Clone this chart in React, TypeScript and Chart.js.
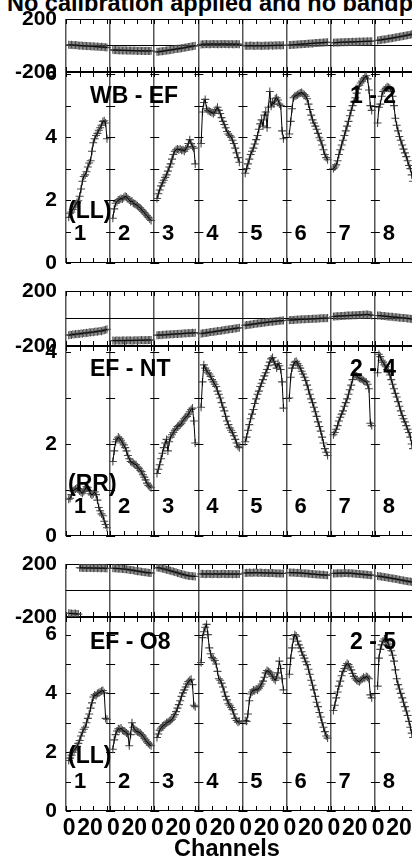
import React, { useEffect, useRef } from 'react';
import { Chart, registerables } from 'chart.js';

Chart.register(...registerables);

const FONT = "'Liberation Sans', Arial, Helvetica, sans-serif";

// ---------------- data ----------------
const TITLE = 'No calibration applied and no bandpass';
const X_TITLE = 'Channels';
const WINDOWS = ['1', '2', '3', '4', '5', '6', '7', '8'];
const CHANNELS = [2, 3, 4, 5, 6, 7, 8, 9, 10, 11, 12, 13, 14, 15, 16, 17, 18, 19, 20, 21, 22, 23, 24, 25, 26, 27, 28, 29, 30];
const X_TICK_CHANNELS = [0, 10, 20, 30];
const X_LABELED_CHANNELS = [0, 20];
const PHASE_TICKS = [-200, 0, 200];
const PHASE_LABELED = [-200, 200];
const BASELINES = ['WB - EF', 'EF - NT', 'EF - O8'];
const ANTENNA_PAIRS = ['1 - 2', '2 - 4', '2 - 5'];
const STOKES = ['(LL)', '(RR)', '(LL)'];
const AMP_MAX = [6.07, 4.13, 6.6];
const AMP_TICKS = [[0, 1, 2, 3, 4, 5, 6], [0, 1, 2, 3, 4], [0, 1, 2, 3, 4, 5, 6]];
const AMP_LABELED = [[0, 2, 4, 6], [0, 2, 4], [0, 2, 4, 6]];

const AMP_WB_EF = [
  [1.45, 1.58, 1.62, 1.7, 1.78, 1.85, 1.92, 1.98, 2.12, 2.35, 2.6, 2.75, 2.8, 2.9, 3.05, 3.18, 3.25, 3.55, 3.82, 3.95, 4.05, 4.12, 4.22, 4.3, 4.38, 4.5, 4.52, 4.45, 3.95],
  [1.42, 1.72, 1.9, 1.95, 2.0, 2.02, 2.05, 2.03, 2.08, 2.12, 2.1, 2.05, 2.0, 1.95, 1.97, 1.9, 1.88, 1.85, 1.82, 1.78, 1.75, 1.7, 1.65, 1.6, 1.55, 1.5, 1.45, 1.4, 1.35],
  [2.05, 2.2, 2.32, 2.45, 2.55, 2.63, 2.72, 2.8, 2.92, 3.05, 3.15, 3.3, 3.45, 3.55, 3.6, 3.62, 3.6, 3.62, 3.58, 3.6, 3.55, 3.62, 3.68, 3.8, 3.92, 3.8, 3.7, 3.65, 3.15],
  [3.8, 4.8, 5.1, 5.2, 4.9, 4.85, 4.82, 4.8, 4.78, 4.75, 4.8, 4.88, 4.95, 4.85, 4.75, 4.62, 4.5, 4.4, 4.3, 4.18, 4.1, 4.05, 4.0, 3.9, 3.8, 3.65, 3.5, 3.35, 3.2],
  [2.85, 3.0, 3.15, 3.3, 3.45, 3.55, 3.65, 3.78, 3.92, 4.05, 4.25, 4.42, 4.55, 4.35, 4.7, 4.8, 4.3, 4.95, 5.45, 4.98, 5.12, 5.05, 5.22, 5.25, 5.18, 5.05, 5.0, 4.2, 3.95],
  [4.1, 4.5, 4.9, 5.25, 5.3, 5.32, 5.35, 5.38, 5.4, 5.42, 5.38, 5.35, 5.3, 5.22, 5.05, 4.88, 4.7, 4.55, 4.45, 4.35, 4.25, 4.12, 3.98, 3.9, 3.75, 3.6, 3.45, 3.35, 3.28],
  [3.0, 3.05, 3.12, 3.25, 3.45, 3.6, 3.75, 3.9, 4.05, 4.2, 4.35, 4.5, 4.68, 4.85, 5.0, 5.12, 5.25, 5.4, 5.52, 5.65, 5.72, 5.78, 5.85, 5.9, 5.95, 5.85, 5.5, 5.0, 4.85],
  [4.45, 4.95, 5.05, 5.3, 5.45, 5.5, 5.55, 5.6, 5.58, 5.55, 5.45, 5.3, 5.0, 4.6, 4.38, 4.2, 4.02, 3.9, 3.75, 3.62, 3.5, 3.38, 3.25, 3.1, 3.0, 2.8, 2.6, 2.4, 2.2],
];
const PHASE_WB_EF = [
  [6, 4, 5, 3, 2, 3, 1, 0, -1, 0, -2, -3, -2, -4, -5, -4, -6, -7, -6, -8, -9, -8, -10, -11, -10, -12, -13, -14, -16],
  [-33, -35, -34, -36, -35, -37, -36, -38, -37, -36, -38, -39, -37, -38, -40, -39, -38, -40, -41, -39, -40, -41, -40, -42, -41, -40, -42, -41, -40],
  [-48, -47, -46, -44, -43, -41, -40, -38, -37, -35, -34, -32, -30, -29, -27, -25, -24, -22, -20, -19, -17, -15, -13, -11, -9, -7, -5, -3, -1],
  [8, 9, 10, 9, 11, 10, 9, 10, 11, 12, 10, 11, 10, 9, 11, 10, 12, 11, 10, 11, 9, 10, 11, 10, 9, 10, 11, 10, 9],
  [-2, -1, -3, -2, 0, -1, -2, -3, -1, 0, -2, -1, -3, -2, -1, 0, -2, -1, 0, 1, -1, 0, 1, 0, 2, 1, 0, 2, 1],
  [3, 4, 5, 6, 6, 7, 8, 9, 9, 10, 11, 12, 12, 13, 14, 15, 15, 16, 17, 18, 18, 19, 20, 21, 21, 22, 23, 24, 25],
  [21, 22, 22, 23, 23, 24, 24, 25, 25, 26, 25, 26, 27, 27, 28, 27, 28, 29, 29, 30, 29, 30, 31, 30, 31, 32, 31, 32, 33],
  [38, 40, 41, 43, 45, 46, 48, 50, 52, 53, 55, 57, 59, 60, 62, 64, 66, 68, 70, 72, 74, 76, 78, 80, 82, 85, 88, 90, 93],
];

const AMP_EF_NT = [
  [0.8, 0.82, 0.9, 0.98, 1.0, 1.02, 1.04, 1.03, 0.98, 0.95, 0.93, 0.97, 1.02, 1.07, 1.05, 0.98, 0.92, 0.89, 0.92, 0.96, 0.9, 0.78, 0.62, 0.55, 0.48, 0.44, 0.32, 0.25, 0.18],
  [1.62, 1.85, 2.05, 2.1, 2.15, 2.12, 2.08, 2.02, 1.98, 1.92, 1.85, 1.75, 1.68, 1.62, 1.6, 1.58, 1.56, 1.55, 1.5, 1.47, 1.43, 1.4, 1.33, 1.28, 1.22, 1.15, 1.1, 1.07, 1.05],
  [1.36, 1.45, 1.55, 1.68, 1.8, 1.92, 2.02, 2.1, 1.85, 2.05, 2.15, 2.2, 2.25, 2.3, 2.33, 2.38, 2.4, 2.42, 2.45, 2.5, 2.55, 2.58, 2.6, 2.65, 2.7, 2.75, 2.78, 2.5, 2.02],
  [2.8, 3.35, 3.72, 3.65, 3.6, 3.55, 3.52, 3.47, 3.4, 3.35, 3.3, 3.25, 3.15, 3.08, 3.0, 2.9, 2.8, 2.72, 2.6, 2.5, 2.42, 2.35, 2.3, 2.25, 2.18, 2.1, 2.02, 1.95, 1.92],
  [2.05, 2.15, 2.3, 2.42, 2.55, 2.65, 2.75, 2.88, 2.98, 3.08, 3.15, 3.25, 3.32, 3.4, 3.48, 3.55, 3.62, 3.7, 3.78, 3.85, 3.88, 3.8, 3.72, 3.65, 3.75, 3.7, 3.62, 3.35, 2.78],
  [3.0, 3.45, 3.65, 3.72, 3.78, 3.8, 3.75, 3.7, 3.65, 3.58, 3.52, 3.45, 3.38, 3.28, 3.18, 3.08, 2.98, 2.9, 2.8, 2.7, 2.6, 2.48, 2.38, 2.28, 2.15, 2.02, 1.9, 1.82, 1.75],
  [2.2, 2.25, 2.32, 2.4, 2.5, 2.58, 2.65, 2.72, 2.82, 2.9, 2.98, 3.08, 3.18, 3.28, 3.4, 3.5, 3.52, 3.48, 3.45, 3.43, 3.42, 3.4, 3.38, 3.36, 3.35, 3.3, 3.2, 2.45, 2.4],
  [3.55, 3.95, 3.9, 3.82, 3.78, 3.72, 3.68, 3.62, 3.58, 3.5, 3.4, 3.3, 3.2, 3.1, 3.02, 2.92, 2.82, 2.72, 2.62, 2.55, 2.48, 2.4, 2.32, 2.25, 2.15, 2.0, 1.9, 1.8, 1.7],
];
const PHASE_EF_NT = [
  [-122, -118, -120, -115, -117, -112, -114, -110, -112, -108, -110, -105, -107, -103, -105, -100, -102, -98, -100, -96, -94, -96, -92, -90, -92, -88, -85, -82, -78],
  [-160, -162, -161, -159, -161, -160, -162, -160, -159, -161, -160, -158, -160, -159, -161, -160, -158, -159, -160, -158, -159, -157, -159, -158, -157, -158, -156, -157, -156],
  [-122, -121, -120, -121, -119, -118, -119, -117, -116, -117, -115, -114, -115, -113, -112, -113, -111, -110, -111, -109, -108, -109, -107, -106, -107, -105, -104, -105, -103],
  [-110, -107, -108, -105, -103, -103, -100, -99, -99, -96, -94, -94, -91, -90, -90, -87, -85, -85, -82, -81, -80, -78, -76, -76, -73, -72, -71, -69, -67],
  [-50, -47, -48, -45, -43, -43, -40, -39, -39, -36, -34, -34, -32, -31, -30, -28, -27, -26, -24, -23, -23, -21, -20, -20, -18, -17, -17, -15, -14],
  [-12, -11, -11, -10, -9, -9, -8, -7, -7, -6, -6, -5, -5, -4, -4, -3, -3, -2, -2, -1, -1, 0, 0, 1, 1, 1, 2, 2, 3],
  [14, 15, 16, 17, 17, 18, 19, 19, 20, 20, 21, 21, 22, 22, 23, 23, 24, 24, 25, 25, 26, 27, 27, 28, 29, 30, 28, 25, 22],
  [22, 21, 22, 19, 18, 18, 16, 15, 15, 13, 12, 12, 10, 9, 9, 7, 6, 6, 4, 3, 3, 1, 0, 0, -2, -3, -3, -5, -6],
];

const AMP_EF_O8 = [
  [1.72, 1.8, 1.9, 2.0, 2.08, 2.12, 2.2, 2.3, 2.4, 2.55, 2.68, 2.78, 2.85, 3.0, 3.15, 3.3, 3.5, 3.68, 3.88, 3.95, 3.92, 4.0, 4.02, 4.05, 4.08, 4.1, 4.02, 3.15, 3.12],
  [2.1, 2.42, 2.6, 2.72, 2.8, 2.78, 2.82, 2.75, 2.72, 2.7, 2.65, 2.62, 2.22, 2.6, 3.0, 2.85, 2.78, 2.72, 2.7, 2.68, 2.65, 2.6, 2.55, 2.48, 2.42, 2.35, 2.3, 2.25, 2.22],
  [2.5, 2.62, 2.75, 2.82, 2.88, 2.92, 2.95, 3.0, 3.02, 3.05, 3.08, 3.12, 3.2, 3.28, 3.38, 3.5, 3.62, 3.75, 3.9, 4.02, 4.12, 4.22, 4.32, 4.4, 4.45, 4.48, 4.3, 3.6, 3.55],
  [5.05, 5.9, 6.1, 6.25, 6.35, 6.0, 5.55, 5.35, 5.22, 5.18, 5.12, 5.0, 4.75, 4.5, 4.45, 4.35, 4.22, 4.05, 3.9, 3.78, 3.65, 3.6, 3.52, 3.45, 3.3, 3.15, 3.08, 3.02, 3.05],
  [3.08, 3.05, 3.3, 3.75, 3.98, 4.05, 4.12, 4.1, 4.15, 4.12, 4.18, 4.25, 4.32, 4.42, 4.55, 4.7, 4.78, 4.75, 4.72, 4.65, 4.58, 4.5, 4.45, 4.55, 4.7, 5.1, 4.85, 4.5, 4.12],
  [4.65, 5.2, 5.55, 5.85, 6.0, 5.95, 5.78, 5.65, 5.55, 5.42, 5.3, 5.2, 5.08, 4.98, 4.82, 4.65, 4.45, 4.28, 4.12, 3.9, 3.7, 3.55, 3.35, 3.2, 3.0, 2.85, 2.7, 2.55, 2.48],
  [3.42, 3.6, 3.85, 4.05, 4.25, 4.42, 4.6, 4.75, 4.85, 4.95, 5.02, 4.98, 4.9, 4.8, 4.68, 4.58, 4.5, 4.45, 4.42, 4.4, 4.45, 4.5, 4.55, 4.52, 4.58, 4.55, 4.5, 3.95, 3.85],
  [4.25, 5.2, 5.5, 5.65, 5.78, 5.85, 5.82, 5.75, 5.68, 5.55, 5.45, 5.3, 5.1, 4.8, 4.5, 4.3, 4.15, 4.0, 3.85, 3.7, 3.55, 3.4, 3.25, 3.05, 2.85, 2.65, 2.5, 2.35, 2.2],
];
const PHASE_EF_O8 = [
  [-172, -174, -173, -175, -176, -174, -177, -178, 172, 171, 172, 170, 171, 169, 170, 171, 169, 170, 168, 169, 170, 168, 169, 167, 168, 169, 167, 168, 166],
  [168, 167, 168, 166, 165, 166, 164, 163, 162, 161, 160, 158, 157, 155, 154, 152, 150, 148, 146, 145, 143, 141, 140, 138, 137, 135, 134, 133, 132],
  [174, 171, 171, 167, 166, 162, 161, 157, 155, 151, 149, 145, 143, 139, 137, 133, 131, 127, 125, 121, 119, 116, 113, 112, 109, 109, 107, 107, 106],
  [124, 126, 125, 123, 125, 126, 124, 125, 123, 124, 126, 125, 124, 123, 125, 124, 126, 125, 124, 123, 124, 125, 124, 123, 125, 124, 123, 124, 125],
  [132, 134, 133, 135, 134, 133, 135, 134, 136, 134, 133, 135, 134, 133, 132, 134, 133, 132, 131, 133, 132, 131, 130, 129, 130, 129, 128, 129, 128],
  [135, 136, 134, 135, 134, 133, 134, 132, 133, 131, 130, 129, 130, 128, 127, 126, 125, 124, 123, 122, 121, 121, 120, 119, 118, 118, 117, 116, 116],
  [128, 129, 129, 130, 130, 131, 131, 131, 132, 132, 131, 131, 130, 130, 129, 128, 127, 126, 125, 124, 123, 122, 121, 120, 119, 118, 117, 116, 115],
  [110, 107, 107, 104, 104, 101, 100, 98, 97, 94, 93, 91, 90, 87, 86, 83, 82, 79, 78, 75, 74, 71, 70, 67, 67, 64, 63, 60, 60],
];

const AMPS = [AMP_WB_EF, AMP_EF_NT, AMP_EF_O8];
const PHASES = [PHASE_WB_EF, PHASE_EF_NT, PHASE_EF_O8];

// ---------------- layout ----------------
const PAGE_W = 412;
const PAGE_H = 862;
const AXIS_W = 66;
const WINDOW_SPAN = 32.3;
const X_MAX = 253.3;
const PAD = 14;
const X_TITLE_CX = 227;
const GEOM = [
  { phaseTop: 19, ampTop: 72, ampBottom: 263, labelDy: 25, stokesDy: 51 },
  { phaseTop: 291, ampTop: 346, ampBottom: 536, labelDy: 24, stokesDy: 51 },
  { phaseTop: 564, ampTop: 617, ampBottom: 811, labelDy: 26, stokesDy: 54 },
];

type Sub = { kind: 'phase' | 'amp'; panel: number; areaTop: number; areaBottom: number; showX: boolean };

const SUBS: Sub[] = [];
GEOM.forEach((g, p) => {
  SUBS.push({ kind: 'phase', panel: p, areaTop: g.phaseTop, areaBottom: g.ampTop, showX: false });
  SUBS.push({ kind: 'amp', panel: p, areaTop: g.ampTop, areaBottom: g.ampBottom, showX: p === GEOM.length - 1 });
});

function canvasBox(s: Sub) {
  const top = s.areaTop - PAD;
  const height = s.showX ? PAGE_H - top : s.areaBottom - s.areaTop + 2 * PAD;
  return { top, height };
}

function channelOf(v: number) {
  const w = Math.floor(v / WINDOW_SPAN + 1e-6);
  return Math.round(v - w * WINDOW_SPAN);
}

function isBoundary(v: number | undefined) {
  if (v === undefined || v === null) return false;
  const w = Math.round(v / WINDOW_SPAN);
  return Math.abs(v - w * WINDOW_SPAN) < 1e-6;
}

function series(values: number[][]) {
  const pts: { x: number; y: number | null }[] = [];
  values.forEach((win, w) => {
    win.forEach((v, i) => pts.push({ x: w * WINDOW_SPAN + CHANNELS[i], y: v }));
    pts.push({ x: w * WINDOW_SPAN + 31.5, y: null });
  });
  return pts;
}

const decorPlugin = {
  id: 'decor',
  beforeDatasetsDraw(chart: any, _a: any, o: any) {
    const { ctx, chartArea: a } = chart;
    const xs = chart.scales.x;
    const ys = chart.scales.y;
    ctx.save();
    ctx.beginPath();
    ctx.rect(a.left, a.top - 1, a.right - a.left, a.bottom - a.top + 2);
    ctx.clip();
    ctx.strokeStyle = '#000';
    ctx.lineWidth = 1;
    ctx.beginPath();
    ctx.moveTo(a.left, a.top + 0.5);
    ctx.lineTo(a.right, a.top + 0.5);
    ctx.moveTo(a.left, a.bottom - 0.5);
    ctx.lineTo(a.right, a.bottom - 0.5);
    for (const t of xs.ticks) {
      const px = Math.round(xs.getPixelForValue(t.value)) + 0.5;
      ctx.moveTo(px, a.top);
      ctx.lineTo(px, a.top + 5);
      ctx.moveTo(px, a.bottom);
      ctx.lineTo(px, a.bottom - 5);
    }
    for (let w = 0; w < WINDOWS.length; w++) {
      const bx = xs.getPixelForValue(w * WINDOW_SPAN);
      for (const v of o.yTicks) {
        const py = Math.round(ys.getPixelForValue(v)) + 0.5;
        ctx.moveTo(bx - 4, py);
        ctx.lineTo(bx + 5, py);
      }
    }
    ctx.stroke();
    ctx.restore();
  },
  afterDatasetsDraw(chart: any, _a: any, o: any) {
    const { ctx, chartArea: a } = chart;
    ctx.save();
    ctx.fillStyle = '#000';
    ctx.textBaseline = 'middle';
    if (o.texts) {
      const xs = chart.scales.x;
      const p = o.panel;
      const g = GEOM[p];
      ctx.textAlign = 'left';
      ctx.font = `bold 23px ${FONT}`;
      ctx.fillText(BASELINES[p], a.left + 24, a.top + g.labelDy);
      ctx.fillText(ANTENNA_PAIRS[p], a.left + 284, a.top + g.labelDy);
      ctx.fillText(STOKES[p], a.left + 2, a.bottom - g.stokesDy);
      ctx.font = `bold 22px ${FONT}`;
      ctx.textAlign = 'center';
      WINDOWS.forEach((lab, w) => {
        ctx.fillText(lab, xs.getPixelForValue(w * WINDOW_SPAN) + 14, a.bottom - 29);
      });
    }
    if (o.xTitle) {
      ctx.textAlign = 'center';
      ctx.font = `bold 23.5px ${FONT}`;
      ctx.fillText(X_TITLE, X_TITLE_CX, chart.height - 12);
    }
    ctx.restore();
  },
};

function buildConfig(s: Sub): any {
  const isPhase = s.kind === 'phase';
  const data = series(isPhase ? PHASES[s.panel] : AMPS[s.panel]);
  const yTicks = isPhase ? PHASE_TICKS : AMP_TICKS[s.panel];
  const yLabeled = isPhase ? PHASE_LABELED : AMP_LABELED[s.panel];
  const xTicks: number[] = [];
  WINDOWS.forEach((_, w) => {
    X_TICK_CHANNELS.forEach((c) => {
      const v = w * WINDOW_SPAN + c;
      if (v <= X_MAX) xTicks.push(v);
    });
  });
  const yFont = { family: FONT, size: 21, weight: 'bold' as const };
  const xFont = { family: FONT, size: 23, weight: 'bold' as const };
  return {
    type: 'line',
    data: {
      datasets: [
        {
          data,
          borderColor: '#000',
          borderWidth: 1,
          pointRadius: 0,
          spanGaps: false,
          tension: 0,
          order: 0,
          segment: {
            borderColor: (c: any) =>
              Math.abs(c.p1.parsed.y - c.p0.parsed.y) > 180 ? 'rgba(0,0,0,0)' : undefined,
          },
        },
        {
          data,
          showLine: false,
          pointStyle: 'cross',
          pointRadius: 4,
          pointBorderColor: '#4a4a4a',
          pointBackgroundColor: 'rgba(0,0,0,0)',
          pointBorderWidth: 1.1,
          order: 1,
        },
      ],
    },
    options: {
      responsive: false,
      animation: false,
      devicePixelRatio: 1,
      events: [],
      layout: { padding: { top: PAD, bottom: s.showX ? 0 : PAD, left: 0, right: 0 }, autoPadding: false },
      plugins: {
        legend: { display: false },
        tooltip: { enabled: false },
        decor: { yTicks: isPhase ? [] : yTicks, texts: !isPhase, panel: s.panel, xTitle: s.showX },
      },
      scales: {
        x: {
          type: 'linear',
          min: 0,
          max: X_MAX,
          afterFit: (sc: any) => {
            sc.height = s.showX ? PAGE_H - s.areaBottom : 0;
            sc.paddingLeft = 0;
            sc.paddingRight = 0;
            sc.paddingTop = 0;
            sc.paddingBottom = 0;
          },
          afterBuildTicks: (sc: any) => {
            sc.ticks = xTicks.map((v) => ({ value: v }));
          },
          grid: {
            drawTicks: false,
            color: (c: any) => (c.tick && isBoundary(c.tick.value) ? '#555' : 'rgba(0,0,0,0)'),
            lineWidth: 1.5,
          },
          border: { display: false },
          ticks: {
            display: s.showX,
            autoSkip: false,
            maxRotation: 0,
            minRotation: 0,
            padding: 4,
            font: xFont,
            color: '#000',
            callback: (v: number) => {
              const c = channelOf(v);
              if (!X_LABELED_CHANNELS.includes(c)) return '';
              return c === 0 ? ' ' + String(c) : String(c) + ' ';
            },
          },
          title: { display: false, text: X_TITLE },
        },
        y: {
          type: 'linear',
          min: isPhase ? -200 : 0,
          max: isPhase ? 200 : AMP_MAX[s.panel],
          afterFit: (sc: any) => {
            sc.width = AXIS_W;
            sc.paddingTop = 0;
            sc.paddingBottom = 0;
            sc.paddingLeft = 0;
            sc.paddingRight = 0;
          },
          afterBuildTicks: (sc: any) => {
            sc.ticks = yTicks.map((v) => ({ value: v }));
          },
          grid: {
            drawTicks: false,
            color: (c: any) => (isPhase && c.tick && c.tick.value === 0 ? '#000' : 'rgba(0,0,0,0)'),
            lineWidth: 1,
          },
          border: { display: false },
          ticks: {
            padding: 9,
            font: yFont,
            color: '#000',
            autoSkip: false,
            callback: (v: number) => (yLabeled.includes(v) ? String(v) : ''),
          },
        },
      },
    },
    plugins: [decorPlugin],
  };
}

function SubChart({ sub }: { sub: Sub }) {
  const ref = useRef<HTMLCanvasElement | null>(null);
  const { top, height } = canvasBox(sub);
  useEffect(() => {
    if (!ref.current) return;
    const chart = new Chart(ref.current, buildConfig(sub));
    return () => chart.destroy();
  }, []);
  return (
    <canvas
      ref={ref}
      width={PAGE_W}
      height={height}
      style={{ position: 'absolute', left: 0, top, width: PAGE_W, height }}
    />
  );
}

export default function App() {
  return (
    <div
      style={{
        position: 'absolute',
        left: 0,
        top: 0,
        width: PAGE_W,
        height: PAGE_H,
        overflow: 'hidden',
        background: '#fff',
      }}
    >
      <div
        style={{
          position: 'absolute',
          left: 7,
          top: -9,
          whiteSpace: 'nowrap',
          font: `bold 23.5px/24px ${FONT}`,
          color: '#000',
        }}
      >
        {TITLE}
      </div>
      {SUBS.map((s, i) => (
        <SubChart key={i} sub={s} />
      ))}
    </div>
  );
}
